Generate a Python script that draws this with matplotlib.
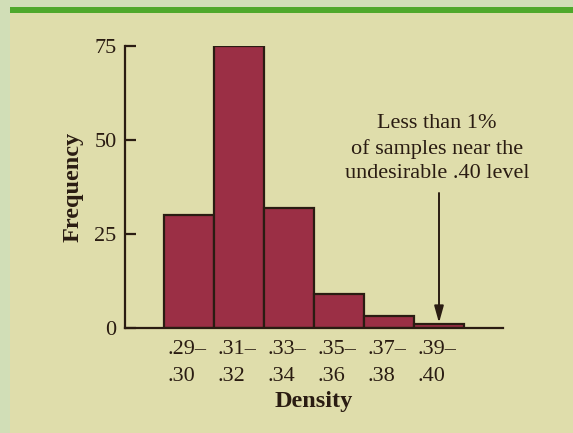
import matplotlib
matplotlib.use("Agg")
import matplotlib.pyplot as plt
from matplotlib.patches import Rectangle

categories = [".29–\n.30", ".31–\n.32", ".33–\n.34", ".35–\n.36", ".37–\n.38", ".39–\n.40"]
frequencies = [30, 75, 32, 9, 3, 1]
yticks = [0, 25, 50, 75]

plt.rcParams['font.family'] = ['Liberation Serif', 'DejaVu Serif']

W, H = 573, 433
fig = plt.figure(figsize=(W / 100, H / 100), dpi=100)
fig.patch.set_facecolor('#D1DEB7')
# panel and green top bar
fig.add_artist(Rectangle((10 / W, 0), 1 - 10 / W, (H - 13) / H, transform=fig.transFigure,
                         facecolor='#DFDDAB', edgecolor='none', zorder=0))
fig.add_artist(Rectangle((10 / W, (H - 13) / H), 1 - 10 / W, 6 / H, transform=fig.transFigure,
                         facecolor='#4FA82B', edgecolor='none', zorder=0))

ax_left, ax_right = 125, 503
ax_top, ax_bottom = 46, 327.7
ax = fig.add_axes([ax_left / W, (H - ax_bottom) / H, (ax_right - ax_left) / W, (ax_bottom - ax_top) / H])
ax.set_facecolor('none')

x = list(range(len(frequencies)))
ax.bar(x, frequencies, width=1.0, color='#9B2F45', edgecolor='#2A1C12', linewidth=1.6, zorder=2)

left = -0.5 - (164 - 125) / 50
ax.set_xlim(left, left + (ax_right - ax_left) / 50)
ax.set_ylim(0, 75)

for s in ['top', 'right']:
    ax.spines[s].set_visible(False)
for s in ['left', 'bottom']:
    ax.spines[s].set_linewidth(1.6)
    ax.spines[s].set_color('#2A1C12')

ax.set_yticks(yticks)
ax.set_yticklabels([str(v) for v in yticks])
ax.tick_params(axis='y', direction='in', length=8, width=1.6, color='#2A1C12',
               labelsize=16, pad=6, labelcolor='#2A1C12')

ax.set_xticks([i - 0.5 + 0.07 for i in x])
ax.set_xticklabels(categories, ha='left', multialignment='left', linespacing=1.55)
ax.tick_params(axis='x', length=0, labelsize=16, pad=9, labelcolor='#2A1C12')

ax.set_xlabel('Density', fontsize=17.5, fontweight='bold', color='#2A1C12', labelpad=4)
ax.set_ylabel('Frequency', fontsize=17.5, fontweight='bold', color='#2A1C12', labelpad=8)

ax.text((437 - ax_left) / 50 + left, 75 - (148.5 - ax_top) / 3.756,
        "Less than 1%\nof samples near the\nundesirable .40 level",
        ha='center', va='center', fontsize=16, color='#2A1C12', linespacing=1.38)

ax.annotate('', xy=(5, frequencies[5] + 0.3), xytext=(5, 75 - (193 - ax_top) / 3.756),
            arrowprops=dict(arrowstyle='-|>,head_length=1.0,head_width=0.28',
                            color='#2A1C12', lw=1.4, shrinkA=0, shrinkB=0))

fig.savefig('out.png', dpi=100, facecolor=fig.get_facecolor())
